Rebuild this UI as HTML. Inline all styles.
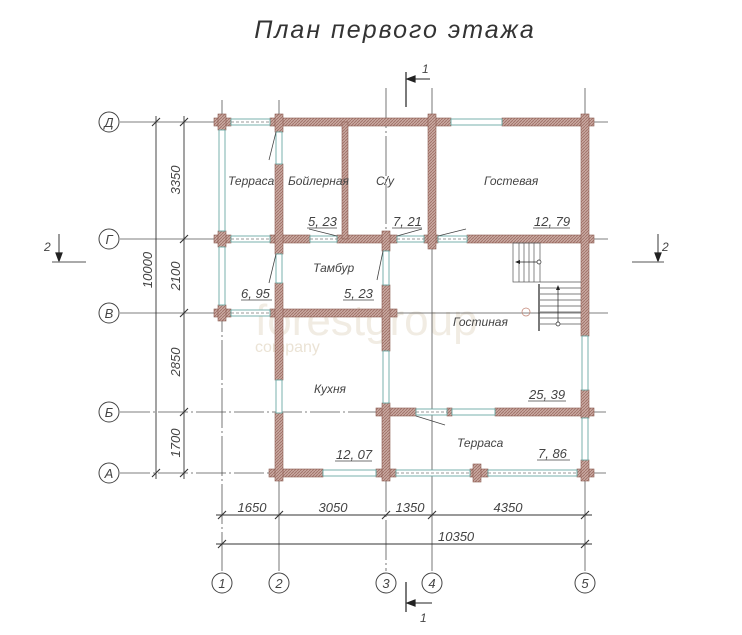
<!DOCTYPE html>
<html><head><meta charset="utf-8"><style>
html,body{margin:0;padding:0;background:#fff;}
svg{display:block;}
text{font-family:"Liberation Sans",sans-serif;font-style:italic;fill:#444;}
</style></head><body>
<svg width="742" height="635" viewBox="0 0 742 635" xmlns="http://www.w3.org/2000/svg">
<defs>
<pattern id="h" width="3" height="3" patternUnits="userSpaceOnUse">
<rect width="3" height="3" fill="#c9a8a0"/>
<path d="M0 3L3 0" stroke="#9c6e64" stroke-width="0.8"/>
</pattern>
</defs>
<text x="395" y="38" text-anchor="middle" font-size="25" letter-spacing="2" style="font-style:italic;fill:#333">План первого этажа</text>

<!-- watermark -->
<text x="255" y="335" font-size="44" style="font-style:normal;fill:#f1ece3">forestgroup</text>
<text x="255" y="352" font-size="16" style="font-style:normal;fill:#ebe3d5">company</text>

<!-- grid axes -->
<g stroke="#555" stroke-width="0.8" fill="none">
<line x1="120" y1="122" x2="608" y2="122"/>
<line x1="120" y1="239" x2="608" y2="239"/>
<line x1="120" y1="313" x2="608" y2="313"/>
<line x1="120" y1="412" x2="608" y2="412" stroke-dasharray="30,3,2,3"/>
<line x1="120" y1="473" x2="608" y2="473" stroke-dasharray="30,3,2,3"/>
<line x1="222" y1="100" x2="222" y2="571" stroke-dasharray="40,3,2,3"/>
<line x1="279" y1="100" x2="279" y2="571"/>
<line x1="386" y1="88" x2="386" y2="571" stroke-dasharray="40,3,2,3"/>
<line x1="432" y1="88" x2="432" y2="571"/>
<line x1="585" y1="88" x2="585" y2="571"/>
</g>
<!-- axis circles -->
<g stroke="#444" stroke-width="1" fill="#fff">
<circle cx="109" cy="122" r="10"/><circle cx="109" cy="239" r="10"/><circle cx="109" cy="313" r="10"/><circle cx="109" cy="412" r="10"/><circle cx="109" cy="473" r="10"/>
<circle cx="222" cy="583" r="10"/><circle cx="279" cy="583" r="10"/><circle cx="386" cy="583" r="10"/><circle cx="432" cy="583" r="10"/><circle cx="585" cy="583" r="10"/>
</g>
<g font-size="13" text-anchor="middle">
<text x="109" y="127">Д</text><text x="109" y="244">Г</text><text x="109" y="318">В</text><text x="109" y="417">Б</text><text x="109" y="478">А</text>
<text x="222" y="588">1</text><text x="279" y="588">2</text><text x="386" y="588">3</text><text x="432" y="588">4</text><text x="585" y="588">5</text>
</g>

<!-- dimension lines -->
<g stroke="#333" stroke-width="0.9">
<line x1="156" y1="116" x2="156" y2="479"/>
<line x1="184" y1="116" x2="184" y2="479"/>
<line x1="216" y1="515" x2="592" y2="515"/>
<line x1="216" y1="544" x2="592" y2="544"/>
<g stroke-width="1.1">
<path d="M152 126l8 -8M152 477l8 -8M180 126l8 -8M180 243l8 -8M180 317l8 -8M180 416l8 -8M180 477l8 -8"/>
<path d="M218 519l8 -8M275 519l8 -8M382 519l8 -8M428 519l8 -8M581 519l8 -8M218 548l8 -8M581 548l8 -8"/>
</g>
</g>
<g font-size="13">
<text transform="translate(180,180) rotate(-90)" text-anchor="middle">3350</text>
<text transform="translate(180,276) rotate(-90)" text-anchor="middle">2100</text>
<text transform="translate(180,362) rotate(-90)" text-anchor="middle">2850</text>
<text transform="translate(180,443) rotate(-90)" text-anchor="middle">1700</text>
<text transform="translate(152,270) rotate(-90)" text-anchor="middle">10000</text>
<text x="252" y="512" text-anchor="middle">1650</text>
<text x="333" y="512" text-anchor="middle">3050</text>
<text x="410" y="512" text-anchor="middle">1350</text>
<text x="508" y="512" text-anchor="middle">4350</text>
<text x="438" y="541">10350</text>
</g>

<!-- section marks -->
<g stroke="#222" stroke-width="1.2" fill="#222">
<line x1="406" y1="72" x2="406" y2="107"/>
<line x1="408" y1="79" x2="430" y2="79" stroke-width="0.9"/>
<path d="M407 79l8 -3v6z"/>
<line x1="406" y1="582" x2="406" y2="612"/>
<line x1="408" y1="603" x2="432" y2="603" stroke-width="0.9"/>
<path d="M407 603l8 -3v6z"/>
<line x1="59" y1="234" x2="59" y2="258" stroke-width="0.9"/>
<path d="M59 261l-3 -8h6z"/>
<line x1="52" y1="262" x2="86" y2="262" stroke="#777"/>
<line x1="658" y1="234" x2="658" y2="258" stroke-width="0.9"/>
<path d="M658 261l-3 -8h6z"/>
<line x1="632" y1="262" x2="664" y2="262" stroke="#777"/>
</g>
<g font-size="12"><text x="422" y="73">1</text><text x="420" y="622">1</text><text x="44" y="251">2</text><text x="662" y="251">2</text></g>

<!-- walls -->
<g fill="url(#h)" stroke="#8a5a50" stroke-width="0.6">
<rect x="214" y="118" width="17" height="8"/>
<rect x="270" y="118" width="181" height="8"/>
<rect x="502" y="118" width="92" height="8"/>
<rect x="214" y="235" width="17" height="8"/>
<rect x="270" y="235" width="40" height="8"/>
<rect x="337" y="235" width="60" height="8"/>
<rect x="424" y="235" width="14" height="8"/>
<rect x="467" y="235" width="127" height="8"/>
<rect x="214" y="309" width="17" height="8"/>
<rect x="270" y="309" width="127" height="8"/>
<rect x="376" y="408" width="40" height="8"/>
<rect x="447" y="408" width="5" height="8"/>
<rect x="495" y="408" width="99" height="8"/>
<rect x="269" y="469" width="54" height="8"/>
<rect x="376" y="469" width="20" height="8"/>
<rect x="470" y="469" width="18" height="8"/>
<rect x="577" y="469" width="17" height="8"/>
<rect x="218" y="114" width="8" height="16"/>
<rect x="218" y="231" width="8" height="16"/>
<rect x="218" y="305" width="8" height="16"/>
<rect x="275" y="114" width="8" height="18"/>
<rect x="275" y="164" width="8" height="90"/>
<rect x="275" y="283" width="8" height="97"/>
<rect x="275" y="413" width="8" height="68"/>
<rect x="342" y="122" width="6" height="117"/>
<rect x="382" y="231" width="8" height="20"/>
<rect x="382" y="285" width="8" height="66"/>
<rect x="382" y="403" width="8" height="78"/>
<rect x="428" y="114" width="8" height="135"/>
<rect x="581" y="114" width="8" height="222"/>
<rect x="581" y="390" width="8" height="28"/>
<rect x="581" y="460" width="8" height="21"/>
<rect x="473" y="464" width="8" height="18"/>
</g>
<!-- windows -->
<g fill="#fff" stroke="#6aa8a4" stroke-width="0.9">
<rect x="231" y="119" width="39" height="6"/>
<rect x="451" y="119" width="51" height="6"/>
<rect x="231" y="236" width="39" height="6"/>
<rect x="310" y="236" width="27" height="6"/>
<rect x="397" y="236" width="27" height="6"/>
<rect x="438" y="236" width="29" height="6"/>
<rect x="231" y="310" width="39" height="6"/>
<rect x="416" y="409" width="31" height="6"/>
<rect x="452" y="409" width="43" height="6"/>
<rect x="323" y="470" width="53" height="6"/>
<rect x="396" y="470" width="74" height="6"/>
<rect x="488" y="470" width="89" height="6"/>
<rect x="219" y="130" width="6" height="101"/>
<rect x="219" y="247" width="6" height="58"/>
<rect x="276" y="132" width="6" height="32"/>
<rect x="276" y="254" width="6" height="29"/>
<rect x="276" y="380" width="6" height="33"/>
<rect x="383" y="251" width="6" height="34"/>
<rect x="383" y="351" width="6" height="52"/>
<rect x="582" y="336" width="6" height="54"/>
<rect x="582" y="418" width="6" height="42"/>
</g>
<g stroke="#777" stroke-width="0.7" stroke-dasharray="3,2">
<line x1="231" y1="122" x2="270" y2="122"/><line x1="231" y1="239" x2="270" y2="239"/><line x1="310" y1="239" x2="337" y2="239"/>
<line x1="397" y1="239" x2="424" y2="239"/><line x1="438" y1="239" x2="467" y2="239"/><line x1="231" y1="313" x2="270" y2="313"/>
<line x1="416" y1="412" x2="447" y2="412"/><line x1="396" y1="473" x2="470" y2="473"/><line x1="488" y1="473" x2="577" y2="473"/>
</g>
<!-- door swings -->
<g stroke="#444" stroke-width="0.8">
<line x1="276" y1="132" x2="269" y2="160"/>
<line x1="276" y1="254" x2="269" y2="283"/>
<line x1="383" y1="251" x2="377" y2="280"/>
<line x1="337" y1="236" x2="309" y2="229"/>
<line x1="397" y1="236" x2="422" y2="229"/>
<line x1="438" y1="236" x2="466" y2="229"/>
<line x1="416" y1="416" x2="445" y2="425"/>
</g>

<!-- stairs -->
<g stroke="#555" stroke-width="0.7" fill="none">
<rect x="513" y="243" width="27" height="39"/>
<line x1="519" y1="243" x2="519" y2="282"/><line x1="524" y1="243" x2="524" y2="282"/><line x1="529" y1="243" x2="529" y2="282"/><line x1="534" y1="243" x2="534" y2="282"/>
<line x1="540" y1="282" x2="581" y2="282"/>
<line x1="540" y1="288" x2="581" y2="288"/><line x1="540" y1="294" x2="581" y2="294"/><line x1="540" y1="300" x2="581" y2="300"/><line x1="540" y1="306" x2="581" y2="306"/><line x1="540" y1="312" x2="581" y2="312"/><line x1="540" y1="318" x2="581" y2="318"/><line x1="540" y1="324" x2="581" y2="324"/>
<line x1="539" y1="284" x2="539" y2="331" stroke="#222" stroke-width="1.2"/>
<line x1="538" y1="262" x2="518" y2="262" stroke="#222"/>
<line x1="558" y1="323" x2="558" y2="288" stroke="#222"/>
<circle cx="539" cy="262" r="2" fill="#fff" stroke="#222"/>
<circle cx="558" cy="324" r="2" fill="#fff" stroke="#222"/>
<circle cx="526" cy="312" r="4" stroke="#c08070"/>
</g>
<g fill="#222"><path d="M515 262l5 -2v4z"/><path d="M558 285l-2 5h4z"/></g>

<!-- room labels -->
<g font-size="12">
<text x="228" y="185">Терраса</text>
<text x="288" y="185">Бойлерная</text>
<text x="376" y="185">С/у</text>
<text x="484" y="185">Гостевая</text>
<text x="313" y="272">Тамбур</text>
<text x="453" y="326">Гостиная</text>
<text x="314" y="393">Кухня</text>
<text x="457" y="447">Терраса</text>
</g>
<g font-size="13">
<text x="308" y="226">5, 23</text>
<text x="393" y="226">7, 21</text>
<text x="534" y="226">12, 79</text>
<text x="241" y="298">6, 95</text>
<text x="344" y="298">5, 23</text>
<text x="529" y="399">25, 39</text>
<text x="336" y="459">12, 07</text>
<text x="538" y="458">7, 86</text>
</g>
<g stroke="#444" stroke-width="0.8">
<line x1="307" y1="228" x2="337" y2="228"/><line x1="392" y1="228" x2="422" y2="228"/><line x1="533" y1="228" x2="570" y2="228"/>
<line x1="241" y1="300" x2="272" y2="300"/><line x1="343" y1="300" x2="374" y2="300"/><line x1="528" y1="401" x2="566" y2="401"/>
<line x1="335" y1="461" x2="372" y2="461"/><line x1="537" y1="460" x2="570" y2="460"/>
</g>
</svg>
</body></html>
